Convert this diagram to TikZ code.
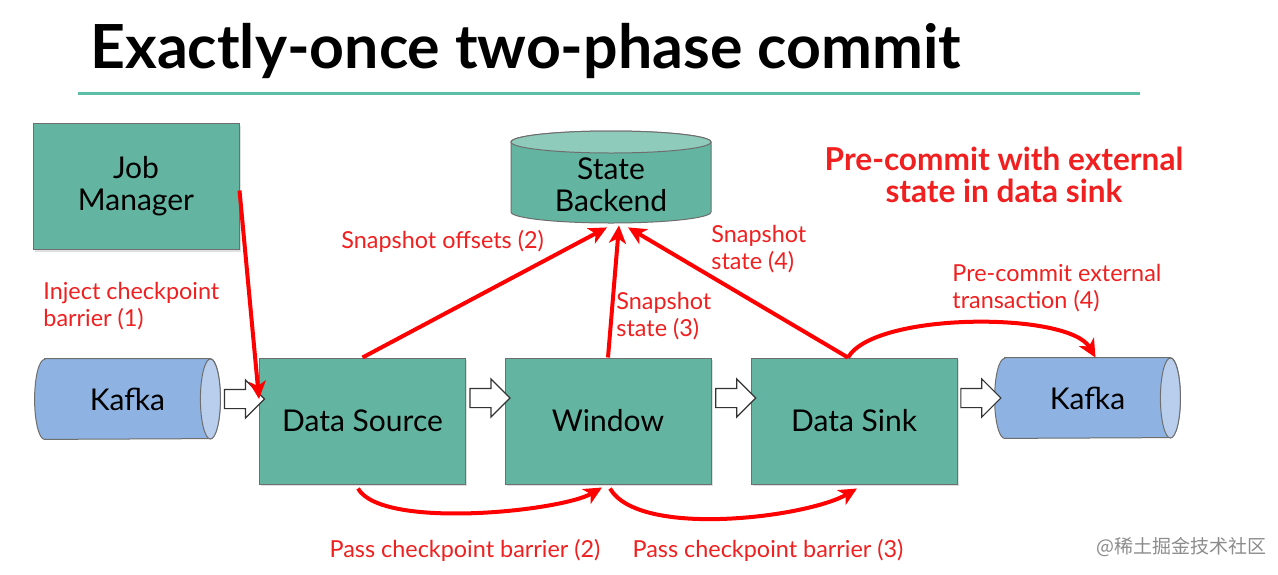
\documentclass[tikz,border=0pt]{standalone}
\usepackage{fontspec}
\setmainfont{Lato}
\newfontfamily\cjkfont{Noto Sans CJK SC}
\usetikzlibrary{arrows.meta,shapes.arrows,shadows,backgrounds,calc,positioning}

\definecolor{boxteal}{RGB}{99,181,161}
\definecolor{capteal}{RGB}{142,203,186}
\definecolor{lineteal}{RGB}{92,190,164}
\definecolor{kafkablue}{RGB}{142,179,226}
\definecolor{kafkacap}{RGB}{184,206,236}
\definecolor{notered}{RGB}{240,32,32}
\definecolor{edgegray}{RGB}{110,110,110}

\tikzset{
  op/.style={draw=edgegray, fill=boxteal, line width=0.5pt, minimum width=103pt, minimum height=63pt,
    inner sep=0pt, align=center, font=\fontsize{15}{16}\selectfont,
    drop shadow={shadow xshift=0.8pt, shadow yshift=-1.2pt, opacity=0.25}},
  store/.style={minimum width=#1, minimum height=40pt, inner sep=0pt, align=center, font=\fontsize{15}{16}\selectfont},
  flow/.style={single arrow, draw=black!80, fill=white, line width=0.6pt, minimum height=20pt,
    inner xsep=0pt, inner ysep=4.5pt, single arrow head extend=4.75pt},
  sig/.style={red, line width=2pt, -{Stealth[length=9pt,width=8.5pt,inset=2.5pt]}},
  note/.style={text=notered, inner sep=0pt, align=left, font=\fontsize{11.7}{13.5}\selectfont}
}

\begin{document}
\begin{tikzpicture}[x=0.5pt,y=0.5pt]
  \useasboundingbox (0,0) rectangle (1278,-574);

  % title
  \node[anchor=base west, inner sep=0pt, font=\fontsize{30.4}{32}\selectfont\bfseries] (title) at (90,-68) {Exactly-once two-phase commit};
  \draw[lineteal, line width=1.5pt] (78,-93) -- (1140,-93);

  % operators
  \node[op] (jm) at (136,-186.5) {Job\\Manager};
  \node[op] (src) at (362.5,-421) {Data Source};
  \node[op] (win) at (608,-421) {Window};
  \node[op] (sink) at (854,-421) {Data Sink};

  % kafka and state backend (text only, shapes on the background)
  \node[store=92.5pt] (kafkaIn) at (127.5,-399) {Kafka};
  \node[store=92.5pt] (kafkaOut) at (1087.5,-398) {Kafka};
  \node[store=100pt, minimum height=38pt] (backend) at (611,-185) {State\\Backend};

  \begin{scope}[on background layer]
    \fill[white] (0,0) rectangle (1278,-574);
    \foreach \k in {kafkaIn,kafkaOut}{
      \filldraw[fill=kafkablue, draw=edgegray, line width=0.5pt]
        ([xshift=5pt]\k.north west) -- ([xshift=-5pt]\k.north east)
        arc[start angle=90, end angle=-90, x radius=10, y radius=40]
        -- ([xshift=5pt]\k.south west)
        arc[start angle=270, end angle=90, x radius=10, y radius=40] -- cycle;
      \filldraw[fill=kafkacap, draw=edgegray, line width=0.5pt] ([xshift=-5pt]\k.east) ellipse[x radius=10, y radius=40];
    }
    \filldraw[fill=boxteal, draw=edgegray, line width=0.5pt]
      (511,-142) -- (511,-212) arc[start angle=180, end angle=360, x radius=100, y radius=11]
      -- (711,-142) arc[start angle=0, end angle=180, x radius=100, y radius=11] -- cycle;
    \filldraw[fill=capteal, draw=edgegray, line width=0.5pt] (611,-142) ellipse[x radius=100, y radius=11];
  \end{scope}

  % data flow
  \node[flow] (f1) at ($(kafkaIn.east)!.5!(src.west |- kafkaIn.east)$) {};
  \node[flow] (f2) at ($(src.east |- kafkaOut.west)!.5!(win.west |- kafkaOut.west)$) {};
  \node[flow] (f3) at ($(win.east |- kafkaOut.west)!.5!(sink.west |- kafkaOut.west)$) {};
  \node[flow] (f4) at ($(sink.east |- kafkaOut.west)!.5!(kafkaOut.west)$) {};

  % checkpoint messages
  \draw[sig] ([yshift=-2pt]jm.east) -- ([yshift=11pt]src.west);
  \draw[sig] (src.north) -- ([xshift=-2pt,yshift=-2pt]backend.south);
  \draw[sig] (win.north) -- ([xshift=4pt,yshift=-1pt]backend.south);
  \draw[sig] ([xshift=-3pt]sink.north) -- ([xshift=8.5pt,yshift=-2pt]backend.south);
  \draw[sig] ([xshift=-3pt]sink.north) to[out=60, in=120, looseness=0.55] ([xshift=4pt]kafkaOut.north);
  \draw[sig] ([xshift=-2.25pt,yshift=-2pt]src.south) to[out=-60, in=-150, looseness=0.5] ([xshift=-3pt,yshift=-1.5pt]win.south);
  \draw[sig] ([xshift=1pt,yshift=-2pt]win.south) to[out=-60, in=-150, looseness=0.6] ([xshift=1.5pt,yshift=-2pt]sink.south);

  % labels
  \node[note, anchor=west] (injectlbl) at (43,-306) {Inject checkpoint\\barrier (1)};
  \node[note, anchor=west] (offsetlbl) at (341,-241) {Snapshot offsets (2)};
  \node[note, anchor=west] (winlbl) at (616,-316.5) {Snapshot\\state (3)};
  \node[note, anchor=west] (sinklbl) at (711,-249.5) {Snapshot\\state (4)};
  \node[note, anchor=west] (txlbl) at (952,-288.5) {Pre-commit external\\transaction (4)};
  \node[note, anchor=center] (pass2lbl) at (465,-550) {Pass checkpoint barrier (2)};
  \node[note, anchor=center] (pass3lbl) at (768,-550) {Pass checkpoint barrier (3)};
  \node[note, align=center, font=\fontsize{15.8}{16}\selectfont\bfseries] (sinknote) at (1004,-175) {Pre-commit with external\\state in data sink};
  \node[text=black!45, font=\cjkfont\fontsize{9.5}{10}\selectfont] (mark) at (1181,-547) {@稀土掘金技术社区};
\end{tikzpicture}
\end{document}
